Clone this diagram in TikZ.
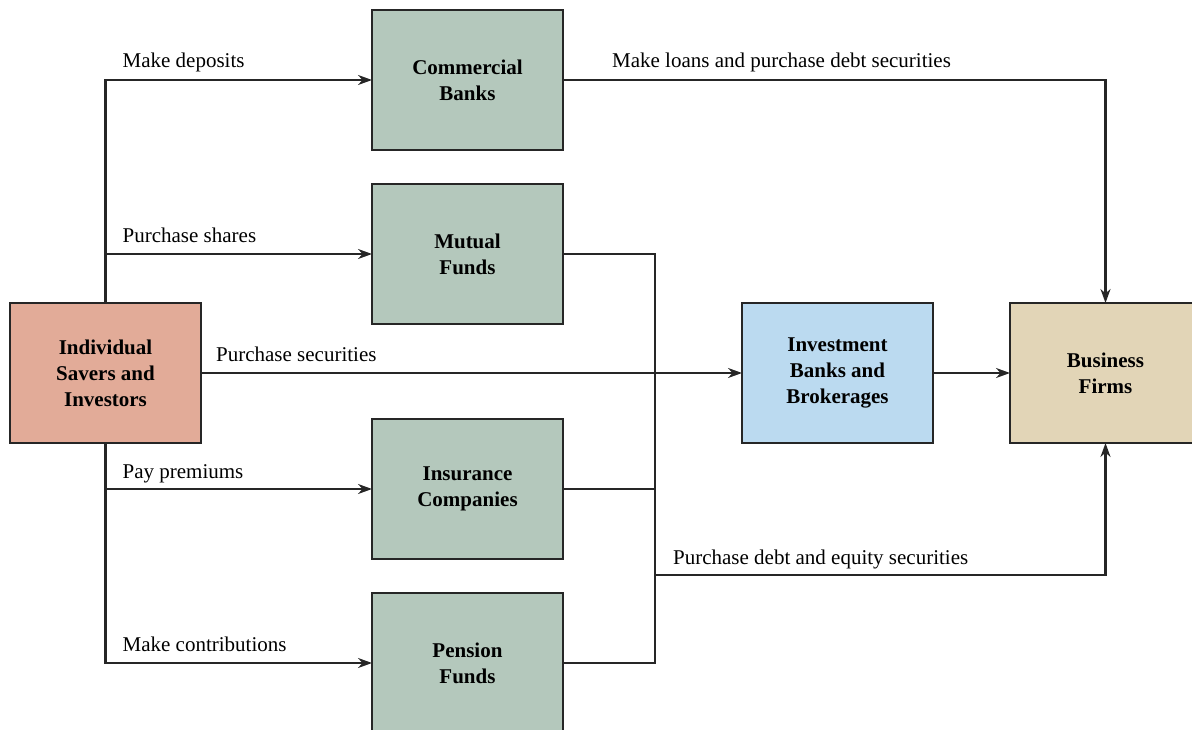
\documentclass[tikz,border=0pt]{standalone}
\usepackage{fontspec}
\setmainfont{Liberation Serif}
\usetikzlibrary{positioning,arrows.meta}
\definecolor{fundgreen}{HTML}{B4C8BC}
\definecolor{saverred}{HTML}{E2AB98}
\definecolor{investblue}{HTML}{BBDAF0}
\definecolor{firmtan}{HTML}{E2D5B7}

\begin{document}
\begin{tikzpicture}[x=1pt,y=-1pt,
    box/.style={draw=black!85, line width=1.3pt, minimum width=191pt, minimum height=140pt,
        inner sep=0pt, outer sep=0pt, align=center, font=\fontsize{21}{26}\selectfont\bfseries},
    flow/.style={draw=black!85, line width=2.3pt},
    arr/.style={flow, -{Stealth[length=14pt,width=10pt]}},
    lbl/.style={anchor=base west, inner sep=0pt, font=\fontsize{21}{26}\selectfont}]
    \useasboundingbox (0,0) rectangle (1192,730);
    \node[box, fill=saverred] (savers) at (105.5,373) {Individual\\Savers and\\Investors};
    \node[box, fill=fundgreen] (banks) at (467.5,80) {Commercial\\Banks};
    \node[box, fill=fundgreen, below=34pt of banks] (mutual) {Mutual\\Funds};
    \node[box, fill=fundgreen, below=95pt of mutual] (insur) {Insurance\\Companies};
    \node[box, fill=fundgreen, below=34pt of insur] (pension) {Pension\\Funds};
    \node[box, fill=investblue, right=541pt of savers] (invest) {Investment\\Banks and\\Brokerages};
    \node[box, fill=firmtan, right=77pt of invest] (firms) {Business\\Firms};
    \coordinate (merge) at (655,575);

    % savers to the intermediaries
    \draw[arr] (savers.north) |- node[lbl, pos=0.5, xshift=16pt, yshift=12pt] {Make deposits} (banks);
    \draw[arr] (savers.north) |- node[lbl, pos=0.5, xshift=16pt, yshift=11pt] {Purchase shares} (mutual);
    \draw[arr] (savers) -- node[lbl, at start, xshift=14pt, yshift=12pt] {Purchase securities} (invest);
    \draw[arr] (savers.south) |- node[lbl, pos=0.5, xshift=16pt, yshift=11pt] {Pay premiums} (insur);
    \draw[arr] (savers.south) |- node[lbl, pos=0.5, xshift=16pt, yshift=12pt] {Make contributions} (pension);

    % intermediaries to business firms
    \draw[flow] (mutual) -| (merge);
    \draw[flow] (insur) -| (merge);
    \draw[flow] (pension) -| (merge);
    \draw[arr] (merge) -| node[lbl, pos=0, xshift=17pt, yshift=11pt] {Purchase debt and equity securities} (firms);
    \draw[arr] (banks) -| node[lbl, pos=0, xshift=48pt, yshift=12pt] {Make loans and purchase debt securities} (firms);
    \draw[arr] (invest) -- (firms);
\end{tikzpicture}
\end{document}
